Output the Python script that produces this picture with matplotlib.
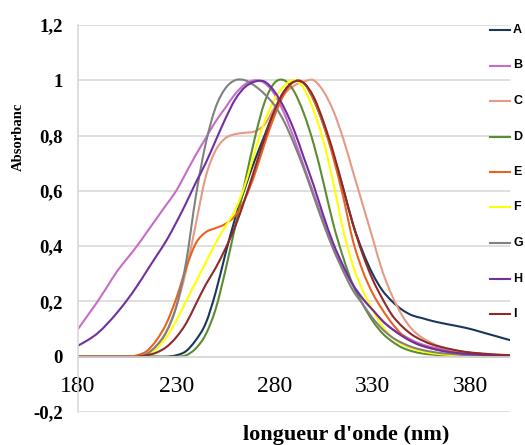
import matplotlib
matplotlib.use('Agg')
import matplotlib.pyplot as plt
from matplotlib.lines import Line2D
from matplotlib.path import Path
import matplotlib.patches as mpatches
import numpy as np

# Wavelengths (nm), one reading every 5 nm
wavelength = list(range(180, 405, 5))

# Normalised absorbance
abs_A = [0, 0, 0, 0, 0, 0, 0, 0, 0, 0,
         0.005, 0.02, 0.06, 0.12, 0.23, 0.37, 0.5, 0.61, 0.71, 0.8,
         0.89, 0.96, 0.995, 0.99, 0.93, 0.84, 0.73, 0.61, 0.48, 0.38,
         0.3, 0.24, 0.2, 0.17, 0.15, 0.14, 0.13, 0.122, 0.115, 0.108,
         0.1, 0.09, 0.08, 0.07, 0.06]
abs_B = [0.1, 0.15, 0.2, 0.255, 0.31, 0.355, 0.4, 0.45, 0.5, 0.55,
         0.6, 0.665, 0.73, 0.79, 0.85, 0.9, 0.95, 0.985, 1.0, 0.99,
         0.95, 0.88, 0.79, 0.69, 0.59, 0.49, 0.39, 0.32, 0.26, 0.21,
         0.17, 0.13, 0.1, 0.08, 0.06, 0.045, 0.035, 0.028, 0.022, 0.018,
         0.014, 0.01, 0.008, 0.006, 0.005]
abs_C = [0, 0, 0, 0, 0, 0, 0, 0.01, 0.04, 0.09,
         0.18, 0.31, 0.48, 0.65, 0.745, 0.79, 0.805, 0.81, 0.815, 0.84,
         0.9, 0.95, 0.98, 0.995, 1.0, 0.96, 0.89, 0.79, 0.67, 0.55,
         0.43, 0.31, 0.22, 0.15, 0.1, 0.07, 0.05, 0.035, 0.025, 0.018,
         0.013, 0.01, 0.007, 0.005, 0.004]
abs_D = [0, 0, 0, 0, 0, 0, 0, 0, 0, 0,
         0, 0.005, 0.03, 0.08, 0.17, 0.31, 0.47, 0.63, 0.79, 0.92,
         0.99, 1.0, 0.96, 0.88, 0.77, 0.63, 0.48, 0.36, 0.26, 0.19,
         0.13, 0.085, 0.055, 0.033, 0.02, 0.012, 0.008, 0.005, 0.003, 0.002,
         0.001, 0, 0, 0, 0]
abs_E = [0, 0, 0, 0, 0, 0, 0.005, 0.02, 0.06, 0.12,
         0.21, 0.32, 0.41, 0.45, 0.465, 0.48, 0.51, 0.57, 0.66, 0.77,
         0.87, 0.95, 0.995, 0.99, 0.93, 0.84, 0.72, 0.58, 0.42, 0.31,
         0.23, 0.17, 0.12, 0.08, 0.055, 0.04, 0.03, 0.022, 0.016, 0.012,
         0.009, 0.007, 0.005, 0.004, 0.003]
abs_F = [0, 0, 0, 0, 0, 0, 0, 0.005, 0.03, 0.07,
         0.13, 0.2, 0.27, 0.34, 0.41, 0.47, 0.53, 0.62, 0.74, 0.85,
         0.93, 0.98, 1.0, 0.97, 0.89, 0.78, 0.63, 0.46, 0.33, 0.24,
         0.17, 0.11, 0.07, 0.045, 0.03, 0.02, 0.013, 0.009, 0.006, 0.004,
         0.003, 0.002, 0.002, 0.002, 0.002]
abs_G = [0, 0, 0, 0, 0, 0, 0, 0.01, 0.04, 0.09,
         0.18, 0.34, 0.58, 0.77, 0.9, 0.97, 1.0, 1.0, 0.98, 0.95,
         0.91, 0.85, 0.77, 0.68, 0.58, 0.48, 0.39, 0.31, 0.24, 0.19,
         0.14, 0.1, 0.07, 0.05, 0.035, 0.025, 0.018, 0.013, 0.01, 0.007,
         0.005, 0.004, 0.003, 0.002, 0.002]
abs_H = [0.04, 0.06, 0.085, 0.12, 0.16, 0.205, 0.255, 0.31, 0.365, 0.42,
         0.485, 0.555, 0.63, 0.7, 0.78, 0.86, 0.93, 0.975, 0.995, 0.995,
         0.96, 0.9, 0.82, 0.72, 0.62, 0.51, 0.41, 0.33, 0.26, 0.21,
         0.17, 0.13, 0.1, 0.075, 0.055, 0.04, 0.03, 0.022, 0.016, 0.012,
         0.009, 0.007, 0.005, 0.004, 0.003]
abs_I = [0, 0, 0, 0, 0, 0, 0, 0.005, 0.015, 0.035,
         0.07, 0.12, 0.19, 0.26, 0.32, 0.39, 0.47, 0.57, 0.68, 0.79,
         0.89, 0.96, 0.995, 0.99, 0.94, 0.85, 0.74, 0.61, 0.48, 0.37,
         0.28, 0.21, 0.15, 0.11, 0.08, 0.06, 0.045, 0.035, 0.027, 0.02,
         0.015, 0.012, 0.009, 0.007, 0.005]

labels = ['A', 'B', 'C', 'D', 'E', 'F', 'G', 'H', 'I']
series = [abs_A, abs_B, abs_C, abs_D, abs_E, abs_F, abs_G, abs_H, abs_I]
colors = ['#1B365D', '#C86CC8', '#E59A84', '#5B8C32', '#E8641E',
          '#FFFF00', '#808080', '#7030A0', '#8E2A2A']

x_ticks = [180, 230, 280, 330, 380]
y_ticks = [-0.2, 0, 0.2, 0.4, 0.6, 0.8, 1.0, 1.2]
y_tick_labels = ['-0,2', '0', '0,2', '0,4', '0,6', '0,8', '1', '1,2']


def smooth_path(xs, ys):
    """
    Bezier path through the points, like a spreadsheet "smoothed line"
    :param xs: x values
    :param ys: y values
    :return: matplotlib Path
    """
    pts = np.column_stack([xs, ys]).astype(float)
    verts = [pts[0]]
    codes = [Path.MOVETO]
    n = len(pts)
    for i in range(n - 1):
        p0 = pts[max(i - 1, 0)]
        p1 = pts[i]
        p2 = pts[i + 1]
        p3 = pts[min(i + 2, n - 1)]
        c1 = p1 + (p2 - p0) / 6.0
        c2 = p2 - (p3 - p1) / 6.0
        verts += [c1, c2, p2]
        codes += [Path.CURVE4] * 3
    return Path(verts, codes)


fig = plt.figure(figsize=(5.25, 4.45), dpi=100)
ax = fig.add_axes([0.1486, 0.0742, 0.8228, 0.8697])

grid_color = '#D9D9D9'
for yv in y_ticks:
    ax.axhline(yv, color=grid_color, linewidth=1.2, zorder=0)

# Draw the spectra as smoothed lines
for vals, col in zip(series, colors):
    ax.add_patch(mpatches.PathPatch(smooth_path(wavelength, vals), fc='none',
                                    edgecolor=col, linewidth=1.5, zorder=2,
                                    capstyle='round', joinstyle='round'))

ax.set_xlim(180, 400)
ax.set_ylim(-0.2, 1.2)

for side in ['top', 'right']:
    ax.spines[side].set_visible(False)
ax.spines['bottom'].set_position(('data', 0))
ax.spines['bottom'].set_color(grid_color)
ax.spines['bottom'].set_linewidth(1.2)
ax.spines['left'].set_color(grid_color)
ax.spines['left'].set_linewidth(1.2)

ax.set_xticks(x_ticks)
ax.set_xticklabels([str(v) for v in x_ticks], fontfamily='Liberation Serif',
                   fontsize=17)
ax.set_yticks(y_ticks)
ax.set_yticklabels(y_tick_labels, fontfamily='Liberation Serif',
                   fontsize=13.5, fontweight='bold')
ax.tick_params(axis='x', length=0, pad=14)
ax.tick_params(axis='y', length=0, pad=11)

# Axis titles
fig.text(346 / 525, 1 - 435 / 445, "longueur d'onde (nm)",
         fontfamily='Liberation Serif', fontweight='bold', fontsize=16,
         ha='center', va='center')
fig.text(18 / 525, 1 - 137 / 445, 'Absorbanc', rotation=90,
         fontfamily='Liberation Serif', fontweight='bold', fontsize=10.5,
         ha='center', va='center')

# Legend drawn on the right, one row per series
for i, (lab, col) in enumerate(zip(labels, colors)):
    y_px = 30 + i * 35.5
    yf = 1 - y_px / 445
    fig.add_artist(Line2D([490 / 525, 510 / 525], [yf, yf], color=col,
                          linewidth=1.5, transform=fig.transFigure))
    fig.text(513 / 525, yf, lab, fontfamily='Liberation Sans',
             fontweight='bold', fontsize=9, ha='left', va='center')

fig.savefig('out.png', dpi=100)
